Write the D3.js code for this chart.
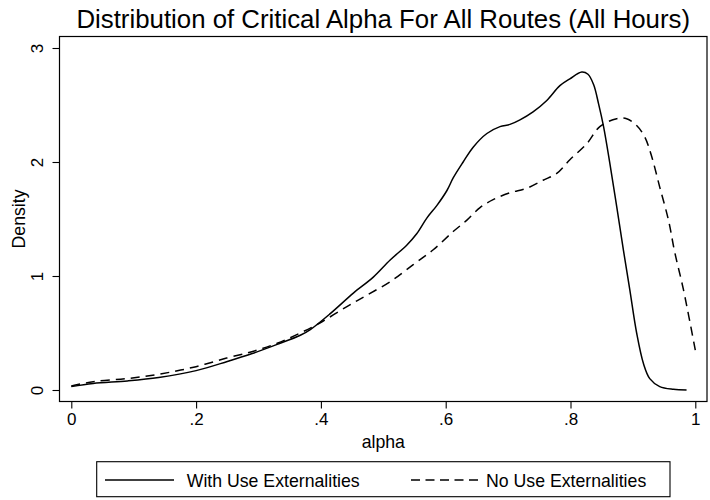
<!DOCTYPE html>
<html>
<head>
<meta charset="utf-8">
<script src="https://cdn.jsdelivr.net/npm/d3@7"></script>
<style>
  html, body { margin: 0; padding: 0; background: #fff; }
  svg { display: block; font-family: "Liberation Sans", Arial, Helvetica, sans-serif; }
</style>
</head>
<body>
<svg id="chart" width="710" height="500"></svg>
<script>
// Kernel density estimates of critical alpha, all routes, all hours
const alphaWith = [0, 0.035, 0.09, 0.14, 0.2, 0.25, 0.29, 0.33, 0.367, 0.383, 0.415, 0.452, 0.484,
  0.511, 0.5375, 0.5535, 0.57, 0.586, 0.602, 0.612, 0.628, 0.644, 0.666, 0.687, 0.703, 0.719,
  0.74, 0.762, 0.783, 0.799, 0.818, 0.828, 0.837, 0.845, 0.853, 0.863, 0.874, 0.885, 0.895,
  0.906, 0.917, 0.927, 0.943, 0.965, 0.986];
const densityWith = [0.03, 0.058, 0.08, 0.11, 0.17, 0.25, 0.32, 0.40, 0.48, 0.53, 0.67, 0.85, 0.99,
  1.14, 1.27, 1.37, 1.51, 1.62, 1.75, 1.86, 2.00, 2.13, 2.25, 2.31, 2.33, 2.37,
  2.44, 2.54, 2.67, 2.73, 2.79, 2.77, 2.68, 2.51, 2.31, 1.99, 1.61, 1.22, 0.88,
  0.50, 0.23, 0.10, 0.03, 0.006, 0.0];

const alphaNo = [0, 0.035, 0.089, 0.142, 0.196, 0.249, 0.292, 0.33, 0.367, 0.399, 0.441, 0.473,
  0.511, 0.548, 0.58, 0.612, 0.634, 0.655, 0.676, 0.703, 0.73, 0.756, 0.778, 0.799, 0.826,
  0.847, 0.874, 0.89, 0.906, 0.919, 0.93, 0.943, 0.957, 0.967, 0.981, 1.0];
const densityNo = [0.035, 0.073, 0.10, 0.14, 0.20, 0.28, 0.34, 0.41, 0.50, 0.59, 0.73, 0.83,
  0.95, 1.10, 1.23, 1.39, 1.49, 1.60, 1.67, 1.73, 1.77, 1.84, 1.90, 2.02, 2.16,
  2.31, 2.38, 2.38, 2.32, 2.22, 2.05, 1.78, 1.49, 1.21, 0.88, 0.35];

const xTicks = [0, 0.2, 0.4, 0.6, 0.8, 1];
const xTickLabels = ["0", ".2", ".4", ".6", ".8", "1"];
const yTicks = [0, 1, 2, 3];
const yTickLabels = ["0", "1", "2", "3"];

const titleText = "Distribution of Critical Alpha For All Routes (All Hours)";
const xTitle = "alpha";
const yTitle = "Density";
const seriesNames = ["With Use Externalities", "No Use Externalities"];

const svg = d3.select("#chart");
const frame = { left: 59.5, right: 707, top: 36.5, bottom: 401.5 };

const x = d3.scaleLinear().domain([0, 1]).range([71.3, 695.3]);
const y = d3.scaleLinear().domain([0, 3]).range([390, 48]);

svg.append("rect").attr("width", 710).attr("height", 500).attr("fill", "#fff");

// Title
svg.append("text")
  .attr("x", (frame.left + frame.right) / 2)
  .attr("y", 27.5)
  .attr("text-anchor", "middle")
  .attr("font-size", 25.8)
  .attr("fill", "#000")
  .text(titleText);

// Plot frame
svg.append("rect")
  .attr("x", frame.left).attr("y", frame.top)
  .attr("width", frame.right - frame.left)
  .attr("height", frame.bottom - frame.top)
  .attr("fill", "none").attr("stroke", "#000").attr("stroke-width", 1.2);

// X axis
const xAxis = d3.axisBottom(x)
  .tickValues(xTicks)
  .tickFormat((d, i) => xTickLabels[i])
  .tickSize(7).tickPadding(4);
const gx = svg.append("g").attr("transform", `translate(0,${frame.bottom})`).call(xAxis);
gx.select(".domain").remove();
gx.selectAll(".tick line").attr("stroke", "#000").attr("stroke-width", 1.1);
gx.selectAll(".tick text").attr("font-size", 17).attr("fill", "#000")
  .attr("font-family", "Liberation Sans, Arial, sans-serif");

// Y axis with rotated tick labels
const yAxis = d3.axisLeft(y)
  .tickValues(yTicks)
  .tickFormat((d, i) => yTickLabels[i])
  .tickSize(7);
const gy = svg.append("g").attr("transform", `translate(${frame.left},0)`).call(yAxis);
gy.select(".domain").remove();
gy.selectAll(".tick line").attr("stroke", "#000").attr("stroke-width", 1.1);
gy.selectAll(".tick text")
  .attr("font-size", 17).attr("fill", "#000")
  .attr("font-family", "Liberation Sans, Arial, sans-serif")
  .attr("x", null).attr("dy", null)
  .attr("text-anchor", "middle")
  .attr("transform", "translate(-16.5,0) rotate(-90)");

// Axis titles
svg.append("text")
  .attr("x", x(0.5)).attr("y", 447.5)
  .attr("text-anchor", "middle")
  .attr("font-size", 17.7).attr("fill", "#000")
  .text(xTitle);

svg.append("text")
  .attr("transform", `translate(25,${(frame.top + frame.bottom) / 2}) rotate(-90)`)
  .attr("text-anchor", "middle")
  .attr("font-size", 17.7).attr("fill", "#000")
  .text(yTitle);

// Density curves
const line = d3.line()
  .x(d => x(d[0]))
  .y(d => y(d[1]))
  .curve(d3.curveCatmullRom.alpha(0.5));

const withPts = alphaWith.map((a, i) => [a, densityWith[i]]);
const noPts = alphaNo.map((a, i) => [a, densityNo[i]]);

svg.append("path").datum(noPts)
  .attr("d", line).attr("fill", "none")
  .attr("stroke", "#000").attr("stroke-width", 1.5)
  .attr("stroke-dasharray", "9,6");

svg.append("path").datum(withPts)
  .attr("d", line).attr("fill", "none")
  .attr("stroke", "#000").attr("stroke-width", 1.5);

// Legend
const lg = svg.append("g");
lg.append("rect")
  .attr("x", 96.7).attr("y", 461.7)
  .attr("width", 670 - 96.7).attr("height", 35)
  .attr("fill", "#fff").attr("stroke", "#000").attr("stroke-width", 1.1);

lg.append("line")
  .attr("x1", 105).attr("x2", 174).attr("y1", 480).attr("y2", 480)
  .attr("stroke", "#000").attr("stroke-width", 1.5);
lg.append("text")
  .attr("x", 186.7).attr("y", 486.5)
  .attr("font-size", 17.7).attr("fill", "#000")
  .text(seriesNames[0]);

lg.append("line")
  .attr("x1", 411).attr("x2", 478).attr("y1", 480).attr("y2", 480)
  .attr("stroke", "#000").attr("stroke-width", 1.5)
  .attr("stroke-dasharray", "9,5.5");
lg.append("text")
  .attr("x", 486).attr("y", 486.5)
  .attr("font-size", 17.7).attr("fill", "#000")
  .text(seriesNames[1]);
</script>
</body>
</html>
